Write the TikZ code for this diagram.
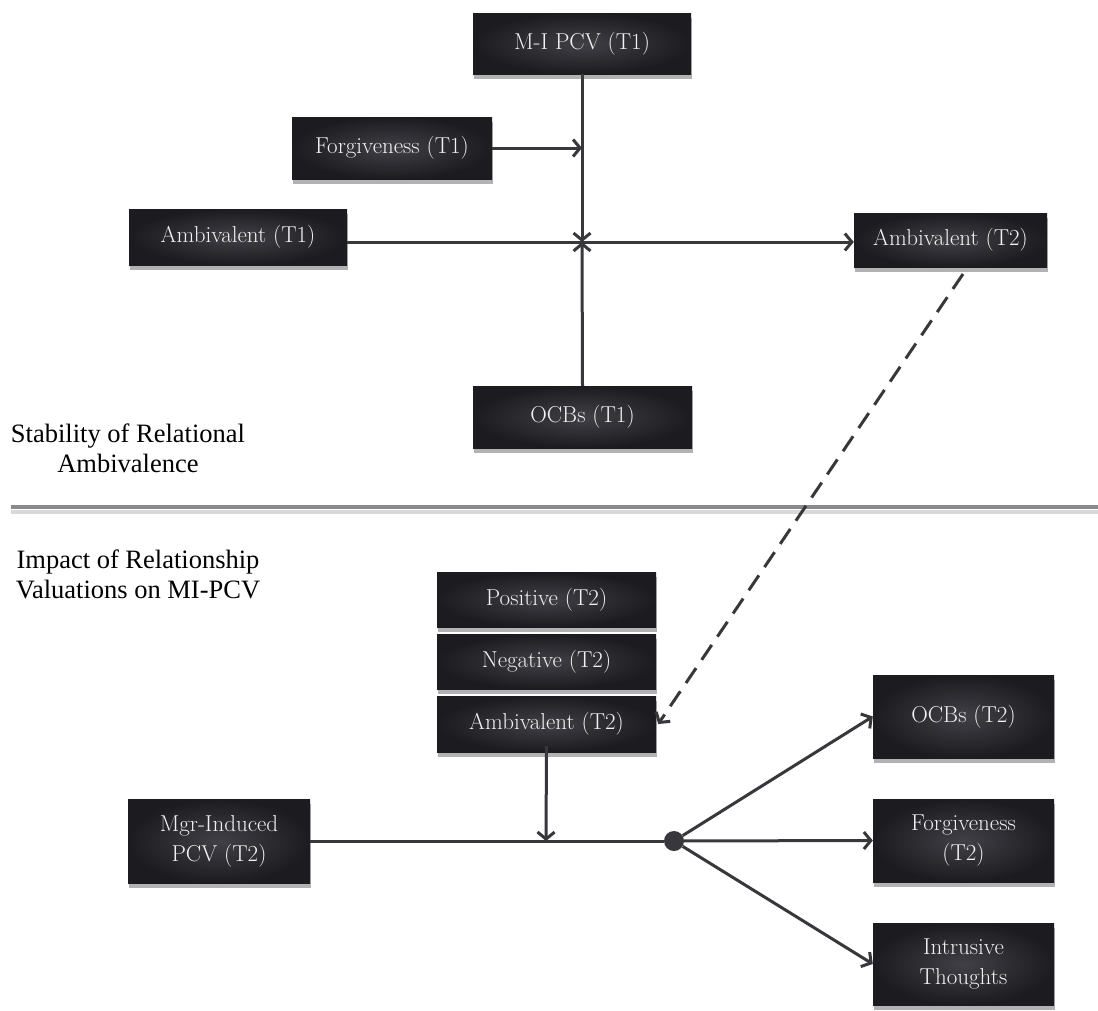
\documentclass[tikz,border=0pt]{standalone}
\usepackage{fontspec}
\newfontfamily\sidefont{Liberation Serif}
\usetikzlibrary{arrows.meta,shadows}
\definecolor{boxdark}{HTML}{1C1B20}
\definecolor{boxlight}{HTML}{404046}
\definecolor{wire}{HTML}{38383C}
\definecolor{rulegray}{HTML}{8A8A8E}
\tikzset{
  box/.style={rectangle, inner sep=0pt, shading=radial, inner color=boxlight,
    outer color=boxdark, text=white!95!black, align=center,
    font=\fontsize{23}{30}\selectfont,
    drop shadow={shadow xshift=1pt, shadow yshift=-5pt, fill=black, opacity=0.3}},
  side/.style={font=\sidefont\fontsize{26.5}{30}\selectfont, align=center, inner sep=0pt},
  wire/.style={draw=wire, line width=3pt},
  arr/.style={wire, -{Straight Barb[length=7pt,width=17pt]}},
  dotnode/.style={circle, fill=wire, inner sep=0pt, minimum size=20pt}
}
\begin{document}
\begin{tikzpicture}[x=1pt, y=-1pt]
  \useasboundingbox[fill=white] (0,0) rectangle (1098,1010);

  % section divider
  \draw[line width=4pt, draw=black!15] (11,512) -- (1098,512);
  \draw[line width=4pt, draw=rulegray] (11,507) -- (1098,507);

  % section captions (anchored on the baseline of their last line)
  \node[side, anchor=base] (stab) at (128,472) {Stability of Relational\\Ambivalence};
  \node[side, anchor=base] (impact) at (138,598) {Impact of Relationship\\Valuations on MI-PCV};

  % upper model
  \node[box, minimum width=218pt, minimum height=61pt] (mipcv) at (582,43.5) {M-I PCV (T1)};
  \node[box, minimum width=200pt, minimum height=62pt] (forg1) at (392,148) {Forgiveness (T1)};
  \node[box, minimum width=218pt, minimum height=56pt] (amb1) at (238,237) {Ambivalent (T1)};
  \node[box, minimum width=193pt, minimum height=54pt] (amb2) at (950.5,240) {Ambivalent (T2)};
  \node[box, minimum width=219pt, minimum height=62pt] (ocb1) at (582.5,417) {OCBs (T1)};
  \coordinate (j1) at (582,242);

  % lower model
  \node[box, minimum width=219pt, minimum height=55pt] (pos) at (546.5,599.5) {Positive (T2)};
  \node[box, minimum width=219pt, minimum height=55pt] (neg) at (546.5,661.5) {Negative (T2)};
  \node[box, minimum width=219pt, minimum height=56pt] (amb3) at (546.5,724) {Ambivalent (T2)};
  \node[box, minimum width=182pt, minimum height=84pt] (mgr) at (219,841) {Mgr-Induced\\PCV (T2)};
  \node[box, minimum width=181pt, minimum height=83pt] (ocb2) at (963.5,716.5) {OCBs (T2)};
  \node[box, minimum width=181pt, minimum height=83pt] (forg2) at (963.5,840.5) {Forgiveness\\(T2)};
  \node[box, minimum width=181pt, minimum height=82pt] (intr) at (963.5,964) {Intrusive\\Thoughts};
  \coordinate (j2) at (546,841);
  \coordinate (dstart) at (963,274);

  % upper connectors
  \draw[arr] (mipcv.south) -- (j1);
  \draw[arr] (ocb1.north) -- (j1);
  \draw[arr] (forg1.east) -- (forg1.east -| j1);
  \draw[arr] (amb1.east |- j1) -- (amb2.west |- j1);

  % carry-over from T1 to T2
  \draw[arr, dash pattern=on 18pt off 10pt] (dstart) -- ([xshift=2pt]amb3.east);

  % lower connectors
  \node[dotnode] (hub) at (674,841) {};
  \draw[wire] (mgr.east |- hub) -- (hub);
  \draw[arr] ([yshift=6pt]amb3.south) -- (j2);
  \draw[arr] (hub) -- (ocb2.west);
  \draw[arr] (hub) -- (forg2.west);
  \draw[arr] (hub) -- (intr.west);
\end{tikzpicture}
\end{document}
